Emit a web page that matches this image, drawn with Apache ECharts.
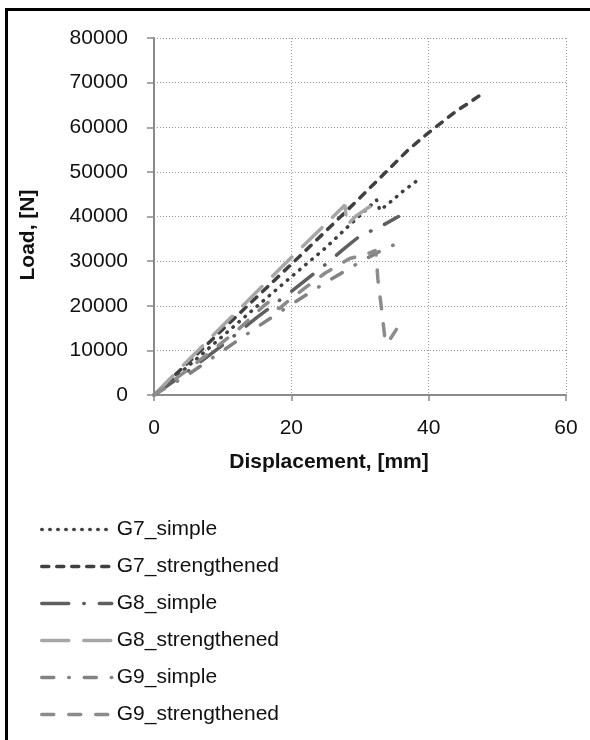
<!DOCTYPE html>
<html>
<head>
<meta charset="utf-8">
<script src="https://cdn.jsdelivr.net/npm/echarts@6/dist/echarts.min.js"></script>
<style>
  html, body { margin: 0; padding: 0; background: #fff; }
  #chart { width: 590px; height: 740px; }
</style>
</head>
<body>
<div id="chart"></div>
<script>
// displacement [mm], load [N]
const g7Simple = [[0,0],[2,2500],[5,6500],[10,13200],[15,19900],[20,26500],[25,33000],[28.5,38100],[31,41700],[32.4,43700],[32.9,41400],[34,42700],[36.2,45600],[38.2,47900]];
const g7Strengthened = [[0,0],[5,7300],[10,14700],[15,22000],[20,29300],[25,36700],[30,44200],[34,50300],[37,54900],[40,58800],[42,61200],[44,63600],[46,65600],[47.5,67200]];
const g8Simple = [[0,0],[5,5400],[10,11200],[15,17400],[20,23200],[25,29300],[28,33200],[30.2,35900],[32,37000],[33.4,38100],[35.6,40000]];
const g8Strengthened = [[0,0],[5,7800],[10,15500],[15,23200],[20,30800],[24,36800],[27.8,42600],[28.1,38100],[29.5,40200],[31.4,42200]];
const g9Simple = [[0,0],[5,4600],[10,9900],[15,15200],[20,20300],[25,25200],[30,29800],[33,32300],[35.6,34100]];
const g9Strengthened = [[0,0],[4,4600],[8,9400],[12,14300],[16,20000],[17.1,21300],[18.2,19300],[19.5,21000],[22,24000],[25,27400],[28.5,30600],[30.7,31400],[32.3,32400],[32.6,26000],[33.2,18500],[33.7,11600],[34.3,12300],[35.3,14700]];

const seriesNames = ['G7_simple', 'G7_strengthened', 'G8_simple', 'G8_strengthened', 'G9_simple', 'G9_strengthened'];
const xTicks = [0, 20, 40, 60];
const yTicks = [0, 10000, 20000, 30000, 40000, 50000, 60000, 70000, 80000];

const font = '"Liberation Sans", Arial, sans-serif';

function makeLine(name, data, color, dash) {
    return {
        name: name,
        type: 'line',
        data: data,
        symbol: 'none',
        smooth: false,
        lineStyle: { color: color, width: 3.5, type: dash, cap: 'round' },
        itemStyle: { color: color }
    };
}

const chart = echarts.init(document.getElementById('chart'));
chart.setOption({
    animation: false,
    backgroundColor: '#fff',
    grid: { left: 154, top: 38, right: 24, bottom: 345, containLabel: false },
    xAxis: {
        type: 'value',
        min: xTicks[0], max: xTicks[xTicks.length - 1], interval: 20,
        axisLine: { lineStyle: { color: '#8a8a8a', width: 2 } },
        axisTick: { show: true, length: 6, lineStyle: { color: '#8a8a8a', width: 1.5 } },
        axisLabel: { color: '#111', fontFamily: font, fontSize: 21, margin: 23 },
        splitLine: { show: true, lineStyle: { color: '#999', width: 1, type: [1, 2] } }
    },
    yAxis: {
        type: 'value',
        min: yTicks[0], max: yTicks[yTicks.length - 1], interval: 10000,
        axisLine: { show: true, lineStyle: { color: '#8a8a8a', width: 2 } },
        axisTick: { show: true, length: 7, lineStyle: { color: '#8a8a8a', width: 1.5 } },
        axisLabel: { color: '#111', fontFamily: font, fontSize: 21, margin: 26, formatter: v => String(v) },
        splitLine: { show: true, lineStyle: { color: '#999', width: 1, type: [1, 2] } }
    },
    legend: {
        orient: 'vertical',
        left: 40,
        top: 519,
        padding: 0,
        itemWidth: 70,
        itemHeight: 14,
        itemGap: 16,
        data: seriesNames,
        itemStyle: { opacity: 0, borderWidth: 0 },
        lineStyle: { width: 3.5 },
        textStyle: { color: '#111', fontFamily: font, fontSize: 21 }
    },
    graphic: [
        {
            type: 'rect',
            shape: { x: 6.5, y: 9.5, width: 700, height: 800 },
            style: { fill: 'none', stroke: '#000', lineWidth: 3 },
            silent: true
        },
        {
            type: 'text',
            x: 329, y: 462,
            style: {
                text: 'Displacement, [mm]',
                font: 'bold 21px ' + font,
                fill: '#111',
                textAlign: 'center',
                textVerticalAlign: 'middle'
            }
        },
        {
            type: 'text',
            x: 28, y: 235,
            rotation: Math.PI / 2,
            style: {
                text: 'Load, [N]',
                font: 'bold 21px ' + font,
                fill: '#111',
                textAlign: 'center',
                textVerticalAlign: 'middle'
            }
        }
    ],
    series: [
        makeLine(seriesNames[0], g7Simple, '#404040', [0.5, 7.5]),
        makeLine(seriesNames[1], g7Strengthened, '#404040', [7, 8]),
        makeLine(seriesNames[2], g8Simple, '#5f5f5f', [27, 15, 0.5, 15]),
        makeLine(seriesNames[3], g8Strengthened, '#a6a6a6', [27, 15]),
        makeLine(seriesNames[4], g9Simple, '#828282', [12, 15, 0.5, 15]),
        makeLine(seriesNames[5], g9Strengthened, '#8c8c8c', [12, 15])
    ]
});
</script>
</body>
</html>
